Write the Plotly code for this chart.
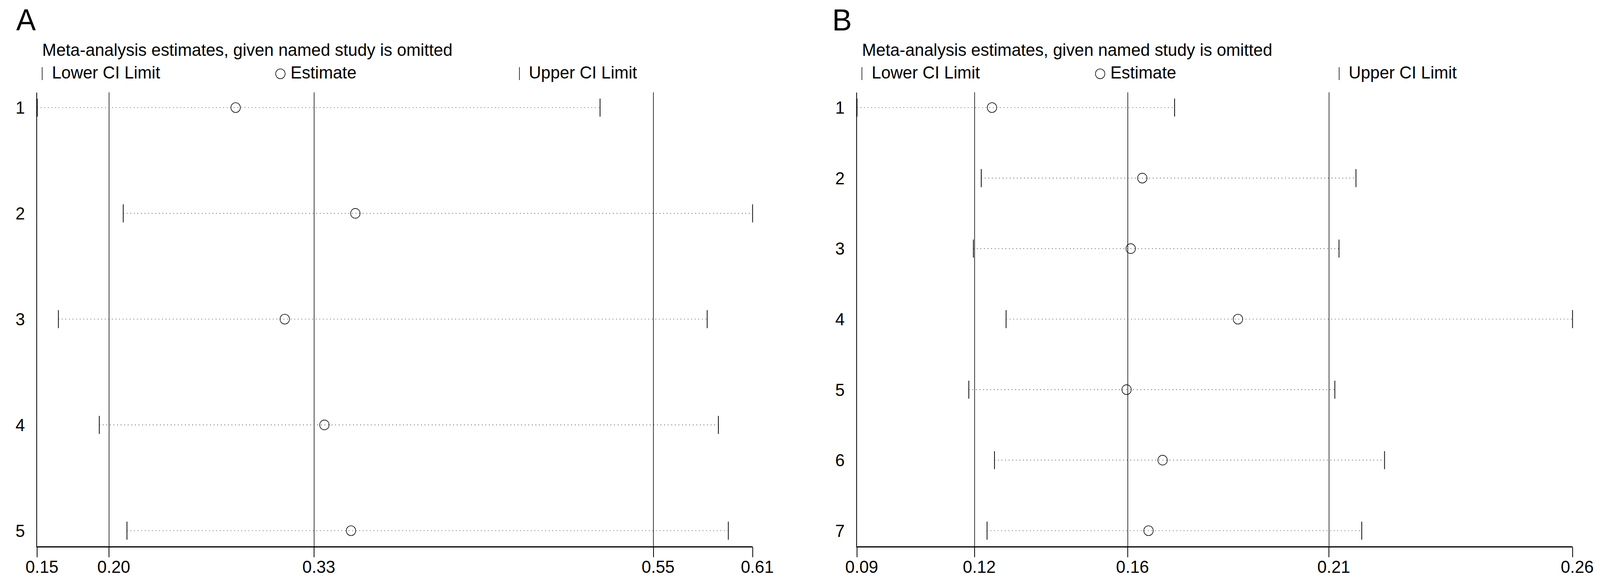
import plotly.graph_objects as go

FONT = "Liberation Sans, Arial, sans-serif"
W, H = 4251, 1493

# ---------------- data: panel A ----------------
studies_a = ["1", "2", "3", "4", "5"]
est_a = [0.2795, 0.3565, 0.3111, 0.3366, 0.3537]
lower_a = [0.1519, 0.2072, 0.1655, 0.1918, 0.2096]
upper_a = [0.5139, 0.6120, 0.5828, 0.5900, 0.5964]
overall_a = [0.1981, 0.3300, 0.5482]          # overall lower CI, estimate, upper CI
tick_labels_a = ["0.15", "0.20", "0.33", "0.55", "0.61"]

# ---------------- data: panel B ----------------
studies_b = ["1", "2", "3", "4", "5", "6", "7"]
est_b = [0.1242, 0.1605, 0.1577, 0.1836, 0.1567, 0.1654, 0.1620]
lower_b = [0.0916, 0.1216, 0.1197, 0.1276, 0.1186, 0.1248, 0.1230]
upper_b = [0.1683, 0.2121, 0.2080, 0.2644, 0.2070, 0.2190, 0.2135]
overall_b = [0.1200, 0.1570, 0.2056]
tick_labels_b = ["0.09", "0.12", "0.16", "0.21", "0.26"]

panel_letters = ["A", "B"]
title_text = "Meta-analysis estimates, given named study is omitted"
legend_labels = ["Lower CI Limit", "Estimate", "Upper CI Limit"]

# ---------------- layout geometry (pixels) ----------------
PLOT_TOP, PLOT_BOT = 236.5, 1399.0
PAD_TOP, PAD_BOT = 39.0, 40.0
panels = [
    dict(left=99.0, right=1999.5, letter_x=41, studies=studies_a, est=est_a,
         lo=lower_a, hi=upper_a, overall=overall_a, ticks=tick_labels_a),
    dict(left=2277.0, right=4178.0, letter_x=2209, studies=studies_b, est=est_b,
         lo=lower_b, hi=upper_b, overall=overall_b, ticks=tick_labels_b),
]


def px(x):
    return x / W


def py(y):
    return 1 - y / H


fig = go.Figure()
shapes = []
annotations = []
layout_axes = {}

for k, p in enumerate(panels):
    sfx = "" if k == 0 else str(k + 1)
    xa, ya = "x" + sfx, "y" + sfx
    n = len(p["studies"])
    yvals = list(range(1, n + 1))

    # dotted CI lines
    xs, ys = [], []
    for i in range(n):
        xs += [p["lo"][i], p["hi"][i], None]
        ys += [yvals[i], yvals[i], None]
    fig.add_trace(go.Scatter(x=xs, y=ys, mode="lines", xaxis=xa, yaxis=ya,
                             line=dict(color="#222222", width=1.7, dash="1.7px,7.8px"),
                             showlegend=False, hoverinfo="skip", cliponaxis=False))
    # lower / upper CI limits
    for vals, name in [(p["lo"], "Lower CI Limit"), (p["hi"], "Upper CI Limit")]:
        fig.add_trace(go.Scatter(x=vals, y=yvals, mode="markers", xaxis=xa, yaxis=ya,
                                 name=name, showlegend=False, cliponaxis=False,
                                 marker=dict(symbol="line-ns", size=33, color="black",
                                             line=dict(color="black", width=2))))
    # estimates
    fig.add_trace(go.Scatter(x=p["est"], y=yvals, mode="markers", xaxis=xa, yaxis=ya,
                             name="Estimate", showlegend=False, cliponaxis=False,
                             marker=dict(symbol="circle-open", size=25, color="black",
                                         line=dict(color="black", width=1.6))))

    # overall lines
    for v in p["overall"]:
        shapes.append(dict(type="line", xref=xa, yref=ya + " domain", x0=v, x1=v, y0=0, y1=1,
                           line=dict(color="black", width=1.6), layer="below"))

    xmin, xmax = min(p["lo"]), max(p["hi"])
    tickvals = [xmin] + list(p["overall"]) + [xmax]
    unit = (PLOT_BOT - PLOT_TOP - PAD_TOP - PAD_BOT) / (n - 1)
    yrange = [n + PAD_BOT / unit, 1 - PAD_TOP / unit]

    layout_axes["xaxis" + sfx] = dict(
        domain=[px(p["left"]), px(p["right"])], anchor=ya, range=[xmin, xmax],
        automargin=False,
        tickmode="array", tickvals=tickvals,
        ticktext=["\u00a0\u00a0" + t for t in p["ticks"]],
        ticks="outside", ticklen=25, tickwidth=1.6, tickcolor="black",
        showline=True, linecolor="black", linewidth=2.6, mirror=False,
        showgrid=False, zeroline=False, ticklabelstandoff=-14,
        tickfont=dict(family=FONT, size=45, color="black"))
    layout_axes["yaxis" + sfx] = dict(
        domain=[py(PLOT_BOT), py(PLOT_TOP)], anchor=xa, range=yrange,
        automargin=False,
        tickmode="array", tickvals=yvals, ticktext=p["studies"],
        ticks="", showline=True, linecolor="black", linewidth=1.6,
        showgrid=False, zeroline=False, ticklabelstandoff=22,
        tickfont=dict(family=FONT, size=45, color="black"))

    # panel letter, title, legend
    L = p["left"]
    annotations.append(dict(text=panel_letters[k], x=px(p["letter_x"]), y=py(51),
                            xref="paper", yref="paper", xanchor="left", yanchor="middle",
                            showarrow=False, font=dict(family=FONT, size=78, color="black")))
    annotations.append(dict(text=title_text, x=px(L + 11), y=py(127.5),
                            xref="paper", yref="paper", xanchor="left", yanchor="middle",
                            showarrow=False, font=dict(family=FONT, size=45, color="black")))
    leg_sym = [L + 13, L + 646, L + 1281]
    leg_txt = [L + 37, L + 671, L + 1304]
    for j, lab in enumerate(legend_labels):
        annotations.append(dict(text=lab, x=px(leg_txt[j]), y=py(186),
                                xref="paper", yref="paper", xanchor="left", yanchor="middle",
                                showarrow=False, font=dict(family=FONT, size=45, color="black")))
    # legend keys
    for j in (0, 2):
        shapes.append(dict(type="line", xref="paper", yref="paper",
                           x0=px(leg_sym[j]), x1=px(leg_sym[j]), y0=py(172), y1=py(205),
                           line=dict(color="black", width=1.6)))
    cx, cy, r = leg_sym[1], 189, 12.5
    shapes.append(dict(type="circle", xref="paper", yref="paper",
                       x0=px(cx - r), x1=px(cx + r), y0=py(cy + r), y1=py(cy - r),
                       line=dict(color="black", width=1.6)))

fig.update_layout(
    width=W, height=H, autosize=False,
    margin=dict(l=0, r=0, t=0, b=0, autoexpand=False),
    paper_bgcolor="white", plot_bgcolor="white",
    showlegend=False,
    font=dict(family=FONT, size=45, color="black"),
    shapes=shapes, annotations=annotations,
    **layout_axes,
)

# fit the fixed-size figure exactly into the browser viewport
post_js = """
var gd = document.getElementById('{plot_id}');
document.documentElement.style.margin = '0';
document.documentElement.style.padding = '0';
document.documentElement.style.overflow = 'hidden';
document.body.style.margin = '0';
document.body.style.padding = '0';
document.body.style.overflow = 'hidden';
var sx = document.documentElement.clientWidth / %d;
var sy = document.documentElement.clientHeight / %d;
gd.style.transformOrigin = '0 0';
gd.style.transform = 'scale(' + sx + ',' + sy + ')';
""" % (W, H)

fig.write_html("out.html", post_script=post_js, config={"displayModeBar": False})
